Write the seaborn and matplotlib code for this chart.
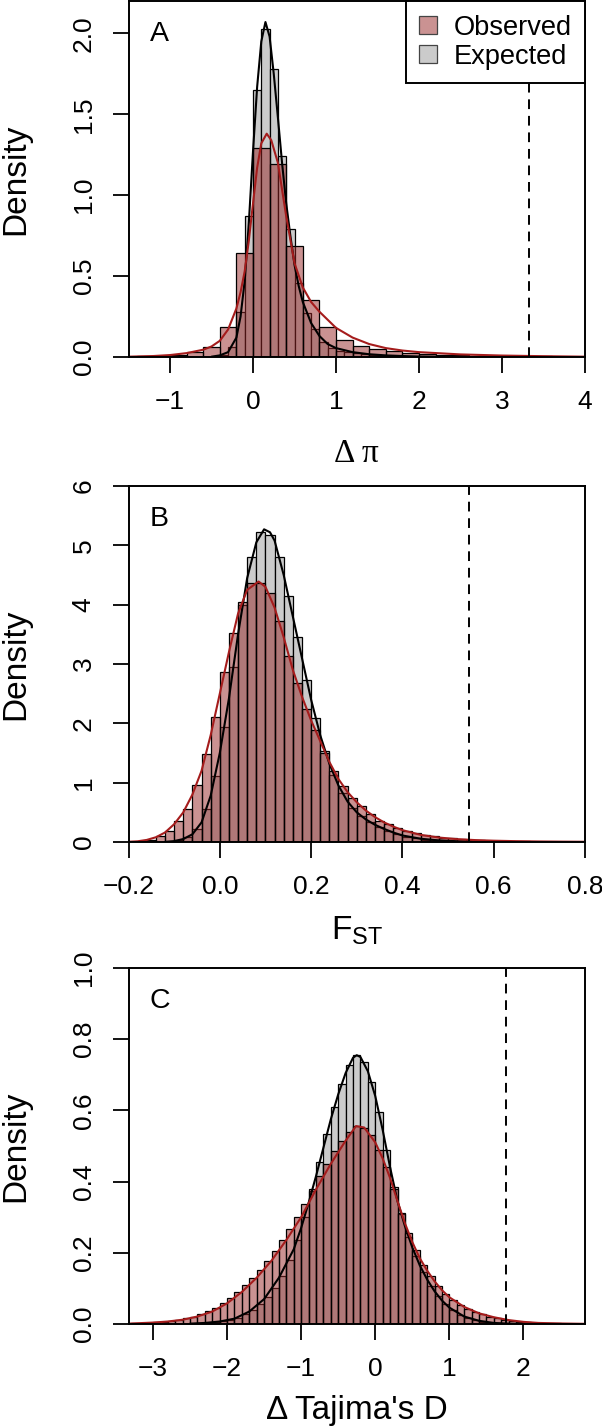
import numpy as np
import pandas as pd
import matplotlib
matplotlib.use("Agg")
import matplotlib.pyplot as plt
from matplotlib.patches import Patch
from matplotlib.colors import to_rgba
import seaborn as sns

sns.set_style("ticks")
plt.rcParams['font.family'] = ['Liberation Sans', 'DejaVu Sans']
plt.rcParams['text.color'] = 'black'
plt.rcParams['axes.labelcolor'] = 'black'
plt.rcParams['xtick.color'] = 'black'
plt.rcParams['ytick.color'] = 'black'

# ---- panel A : delta pi ----
a_obs_start, a_obs_width = -1.4, 0.2
a_obs_height = [0.004, 0.008, 0.015, 0.03, 0.06, 0.187, 0.64, 1.29, 1.19, 0.685,
                0.35, 0.187, 0.105, 0.068, 0.047, 0.035, 0.026, 0.02, 0.015, 0.012,
                0.009, 0.007, 0.006, 0.005, 0.004, 0.003, 0.002]
a_exp_start, a_exp_width = -0.5, 0.1
a_exp_height = [0.003, 0.012, 0.064, 0.28, 0.87, 1.65, 2.03, 1.78, 1.24, 0.79,
                0.46, 0.27, 0.17, 0.095, 0.058, 0.04, 0.03, 0.022, 0.016, 0.012,
                0.009, 0.006, 0.004, 0.003, 0.002]
a_obs_curve_x = [-1.5, -1.2, -1.0, -0.8, -0.6, -0.5, -0.4, -0.3, -0.2, -0.15, -0.1, -0.05,
                 0.0, 0.05, 0.1, 0.165, 0.22, 0.3, 0.4, 0.5, 0.6, 0.7, 0.8, 0.9, 1.0,
                 1.2, 1.4, 1.6, 1.8, 2.0, 2.5, 3.0, 3.5, 4.0]
a_obs_curve_y = [0.002, 0.006, 0.012, 0.024, 0.045, 0.065, 0.1, 0.17, 0.3, 0.4, 0.53, 0.72,
                 0.95, 1.17, 1.32, 1.38, 1.34, 1.2, 0.87, 0.58, 0.43, 0.34, 0.28, 0.23, 0.18,
                 0.12, 0.08, 0.055, 0.04, 0.03, 0.016, 0.009, 0.005, 0.002]
a_exp_curve_x = [-0.5, -0.4, -0.3, -0.2, -0.15, -0.1, -0.05, 0.0, 0.05, 0.1, 0.15, 0.2,
                 0.25, 0.3, 0.35, 0.4, 0.45, 0.5, 0.55, 0.6, 0.7, 0.8, 0.9, 1.0, 1.2,
                 1.4, 1.6, 1.8, 2.0, 2.3]
a_exp_curve_y = [0.002, 0.01, 0.03, 0.12, 0.25, 0.47, 0.83, 1.27, 1.67, 1.95, 2.07, 1.98,
                 1.75, 1.48, 1.2, 0.95, 0.75, 0.57, 0.44, 0.34, 0.21, 0.13, 0.08, 0.055, 0.03,
                 0.017, 0.01, 0.006, 0.003, 0.001]

# ---- panel B : Fst ----
b_obs_start, b_obs_width = -0.2, 0.02
b_obs_height = [0.005, 0.015, 0.03, 0.10, 0.19, 0.35, 0.56, 0.96, 1.48, 2.11,
                2.86, 3.53, 4.05, 4.36, 4.36, 4.19, 3.72, 3.13, 2.68, 2.25,
                1.89, 1.5, 1.19, 0.95, 0.74, 0.6, 0.48, 0.36, 0.30, 0.24,
                0.19, 0.15, 0.12, 0.095, 0.075, 0.06, 0.048, 0.038, 0.03, 0.024,
                0.019, 0.015, 0.012, 0.01, 0.008, 0.007, 0.006, 0.005, 0.004, 0.004]
b_exp_start, b_exp_width = -0.14, 0.02
b_exp_height = [0.002, 0.008, 0.03, 0.09, 0.22, 0.55, 1.12, 1.93, 2.95, 4.0,
                4.8, 5.22, 5.17, 4.8, 4.15, 3.46, 2.73, 2.09, 1.53, 1.13,
                0.82, 0.57, 0.43, 0.33, 0.25, 0.18, 0.13, 0.09, 0.06, 0.04,
                0.03, 0.02, 0.013, 0.009, 0.006, 0.004]
b_obs_curve_x = [-0.2, -0.18, -0.16, -0.14, -0.12, -0.1, -0.08, -0.06, -0.04, -0.02,
                 0.0, 0.02, 0.04, 0.06, 0.085, 0.1, 0.12, 0.14, 0.16, 0.18,
                 0.2, 0.22, 0.24, 0.26, 0.28, 0.3, 0.32, 0.34, 0.36, 0.38,
                 0.4, 0.44, 0.48, 0.52, 0.56, 0.6, 0.65, 0.7, 0.75, 0.8]
b_obs_curve_y = [0.004, 0.012, 0.035, 0.08, 0.16, 0.3, 0.5, 0.8, 1.2, 1.8,
                 2.5, 3.2, 3.85, 4.25, 4.39, 4.3, 3.95, 3.45, 2.9, 2.45,
                 2.05, 1.7, 1.35, 1.06, 0.84, 0.67, 0.53, 0.42, 0.33, 0.26,
                 0.2, 0.12, 0.075, 0.048, 0.032, 0.022, 0.014, 0.009, 0.006, 0.004]
b_exp_curve_x = [-0.12, -0.1, -0.08, -0.06, -0.04, -0.02, 0.0, 0.02, 0.04, 0.06, 0.08,
                 0.097, 0.11, 0.12, 0.14, 0.16, 0.18, 0.2, 0.22, 0.24, 0.26, 0.28,
                 0.3, 0.32, 0.34, 0.36, 0.38, 0.4, 0.44, 0.48, 0.52, 0.56, 0.6]
b_exp_curve_y = [0.003, 0.015, 0.05, 0.13, 0.33, 0.78, 1.5, 2.42, 3.5, 4.45, 5.05,
                 5.27, 5.22, 5.08, 4.5, 3.8, 3.1, 2.4, 1.8, 1.32, 0.95, 0.68,
                 0.5, 0.38, 0.29, 0.22, 0.16, 0.11, 0.055, 0.027, 0.013, 0.006, 0.002]

# ---- panel C : delta Tajima's D ----
c_obs_start, c_obs_width = -3.3, 0.1
c_obs_height = [0.002, 0.003, 0.004, 0.005, 0.007, 0.009, 0.012, 0.016, 0.021, 0.028,
                0.036, 0.046, 0.058, 0.073, 0.09, 0.11, 0.13, 0.152, 0.178, 0.205,
                0.236, 0.266, 0.3, 0.337, 0.378, 0.415, 0.45, 0.485, 0.515, 0.54,
                0.556, 0.55, 0.53, 0.49, 0.44, 0.378, 0.313, 0.255, 0.207, 0.167,
                0.135, 0.107, 0.085, 0.068, 0.054, 0.043, 0.034, 0.027, 0.021, 0.016,
                0.012, 0.009, 0.007, 0.005, 0.004, 0.003, 0.002, 0.0015, 0.001, 0.001,
                0.0005]
c_exp_start, c_exp_width = -2.4, 0.1
c_exp_height = [0.002, 0.003, 0.005, 0.008, 0.012, 0.018, 0.027, 0.04, 0.056, 0.075,
                0.1, 0.135, 0.18, 0.235, 0.3, 0.375, 0.455, 0.535, 0.61, 0.675,
                0.728, 0.755, 0.735, 0.68, 0.595, 0.49, 0.385, 0.31, 0.245, 0.19,
                0.145, 0.108, 0.078, 0.055, 0.038, 0.026, 0.017, 0.011, 0.007, 0.004,
                0.0025, 0.0015, 0.001]
c_obs_curve_x = [-3.33, -3.0, -2.8, -2.6, -2.4, -2.2, -2.0, -1.8, -1.6, -1.4, -1.2, -1.0,
                 -0.8, -0.6, -0.4, -0.26, -0.15, 0.0, 0.1, 0.2, 0.3, 0.4, 0.5, 0.6,
                 0.7, 0.8, 0.9, 1.0, 1.2, 1.4, 1.6, 1.8, 2.0, 2.2, 2.5, 2.83]
c_obs_curve_y = [0.001, 0.004, 0.007, 0.012, 0.021, 0.035, 0.058, 0.09, 0.13, 0.178, 0.236, 0.3,
                 0.378, 0.45, 0.515, 0.556, 0.552, 0.51, 0.465, 0.41, 0.345, 0.283, 0.23, 0.185,
                 0.15, 0.12, 0.095, 0.075, 0.048, 0.03, 0.019, 0.011, 0.006, 0.003, 0.0015, 0.0005]
c_exp_curve_x = [-2.5, -2.3, -2.1, -1.9, -1.7, -1.5, -1.3, -1.1, -1.0, -0.9, -0.8, -0.7,
                 -0.6, -0.5, -0.4, -0.3, -0.25, -0.2, -0.1, 0.0, 0.1, 0.2, 0.3, 0.4,
                 0.5, 0.6, 0.7, 0.8, 0.9, 1.0, 1.2, 1.4, 1.6, 1.8, 2.0]
c_exp_curve_y = [0.001, 0.003, 0.007, 0.015, 0.035, 0.07, 0.13, 0.21, 0.27, 0.34, 0.415, 0.495,
                 0.575, 0.645, 0.705, 0.748, 0.755, 0.75, 0.71, 0.64, 0.545, 0.44, 0.345, 0.275,
                 0.215, 0.165, 0.125, 0.092, 0.066, 0.046, 0.021, 0.009, 0.003, 0.001, 0.0]

panel_letters = ["A", "B", "C"]
x_labels = ["Δ π", r"$\mathregular{F_{ST}}$", "Δ Tajima's D"]
cutoffs = [3.33, 0.545, 1.76]
x_limits = [(-1.5, 4.0), (-0.2, 0.8), (-3.33, 2.83)]
y_limits = [(0, 2.2), (0, 6), (0, 1.0)]
x_ticks = [[-1, 0, 1, 2, 3, 4], [-0.2, 0.0, 0.2, 0.4, 0.6, 0.8], [-3, -2, -1, 0, 1, 2]]
x_ticklabels = [["\u22121", "0", "1", "2", "3", "4"],
                ["\u22120.2", "0.0", "0.2", "0.4", "0.6", "0.8"],
                ["\u22123", "\u22122", "\u22121", "0", "1", "2"]]
y_ticks = [[0, 0.5, 1.0, 1.5, 2.0], [0, 1, 2, 3, 4, 5, 6], [0, 0.2, 0.4, 0.6, 0.8, 1.0]]
y_ticklabels = [["0.0", "0.5", "1.0", "1.5", "2.0"],
                ["0", "1", "2", "3", "4", "5", "6"],
                ["0.0", "0.2", "0.4", "0.6", "0.8", "1.0"]]

GREY = "#cbcbcb"
RED = "#962626"
RED_ALPHA = 0.5
CURVE_RED = "#a51c1c"


def draw_hist(ax, start, width, heights, color, alpha):
    edges = np.round(start + width * np.arange(len(heights) + 1), 4)
    df = pd.DataFrame({"x": edges[:-1] + width / 2, "w": heights})
    sns.histplot(data=df, x="x", weights="w", bins=list(edges), stat="count",
                 color=color, alpha=alpha, edgecolor="black", linewidth=0.9,
                 ax=ax)


def panel(ax, i, obs, exp, obs_curve, exp_curve):
    draw_hist(ax, exp[0], exp[1], exp[2], GREY, 1.0)
    draw_hist(ax, obs[0], obs[1], obs[2], RED, RED_ALPHA)
    sns.lineplot(x=exp_curve[0], y=exp_curve[1], color="black", linewidth=1.5, ax=ax)
    sns.lineplot(x=obs_curve[0], y=obs_curve[1], color=CURVE_RED, linewidth=1.5, ax=ax)
    ax.axvline(cutoffs[i], color="black", linewidth=1.4, linestyle=(0, (5, 3.5)))

    ax.set_xlim(*x_limits[i])
    ax.set_ylim(*y_limits[i])
    ax.set_xticks(x_ticks[i])
    ax.set_xticklabels(x_ticklabels[i])
    ax.set_yticks(y_ticks[i])
    ax.set_yticklabels(y_ticklabels[i], rotation=90, va="center")
    ax.tick_params(length=11.5, width=1.3, labelsize=19, pad=12, color="black",
                   labelcolor="black")
    for s in ax.spines.values():
        s.set_visible(True)
        s.set_linewidth(1.4)
        s.set_color("black")

    if i == 0:
        ax.set_xlabel(x_labels[i], fontsize=24, family=["Liberation Serif", "DejaVu Serif"])
    else:
        ax.set_xlabel(x_labels[i], fontsize=24)
    ax.xaxis.set_label_coords(0.5, [-0.228, -0.205, -0.2][i])
    ax.set_ylabel("Density", fontsize=24)
    ax.yaxis.set_label_coords(-0.212, 0.5)
    ax.text(0.047, 0.906, panel_letters[i], transform=ax.transAxes,
            fontsize=20.5, ha="left", va="center")


fig = plt.figure(figsize=(6.02, 14.27), dpi=100)
left = 128.5 / 602
width = 456.5 / 602
height = 356 / 1427
axes = [fig.add_axes([left, (1427 - b) / 1427, width, height]) for b in (357, 842, 1324)]

panel(axes[0], 0, (a_obs_start, a_obs_width, a_obs_height),
      (a_exp_start, a_exp_width, a_exp_height),
      (a_obs_curve_x, a_obs_curve_y), (a_exp_curve_x, a_exp_curve_y))
panel(axes[1], 1, (b_obs_start, b_obs_width, b_obs_height),
      (b_exp_start, b_exp_width, b_exp_height),
      (b_obs_curve_x, b_obs_curve_y), (b_exp_curve_x, b_exp_curve_y))
panel(axes[2], 2, (c_obs_start, c_obs_width, c_obs_height),
      (c_exp_start, c_exp_width, c_exp_height),
      (c_obs_curve_x, c_obs_curve_y), (c_exp_curve_x, c_exp_curve_y))

handles = [Patch(facecolor=to_rgba(RED, RED_ALPHA), edgecolor="#444444", linewidth=0.9),
           Patch(facecolor=GREY, edgecolor="#444444", linewidth=0.9)]
leg = axes[0].legend(handles, ["Observed", "Expected"], loc="upper right",
                     frameon=True, fancybox=False, framealpha=1, edgecolor="black",
                     borderaxespad=0, handlelength=0.65, handleheight=0.65,
                     handletextpad=0.6, borderpad=0.5, labelspacing=0.12,
                     fontsize=19.6)
leg.get_frame().set_linewidth(1.4)

fig.savefig("out.png", dpi=100)
